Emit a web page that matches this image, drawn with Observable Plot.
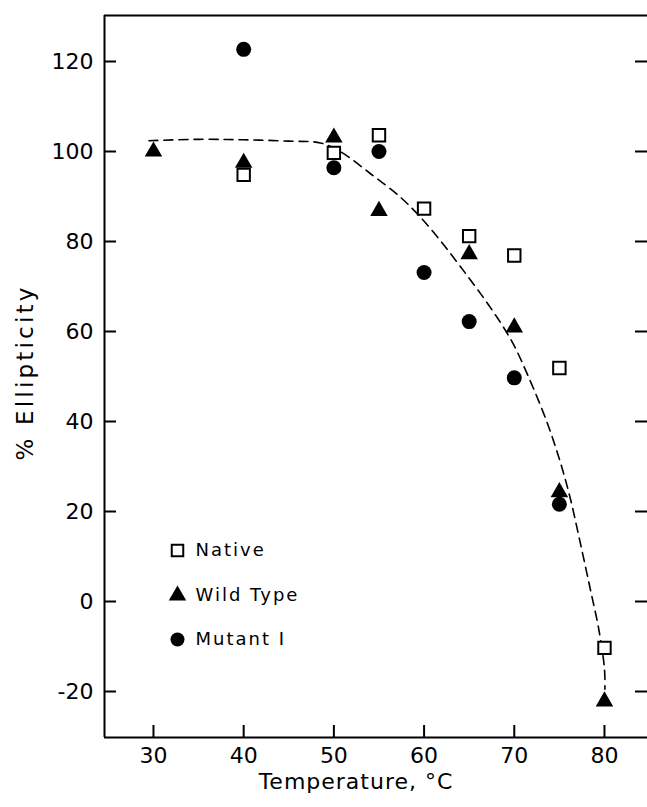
<!DOCTYPE html>
<html><head><meta charset="utf-8">
<script src="https://cdn.jsdelivr.net/npm/d3@7"></script>
<script src="https://cdn.jsdelivr.net/npm/@observablehq/plot@0.6"></script>
<style>body{margin:0;background:#fff}</style>
</head><body><div id="chart"></div>
<script>
const xTicks = [30, 40, 50, 60, 70, 80];
const yTicks = [-20, 0, 20, 40, 60, 80, 100, 120];
const nativeT = [40, 50, 55, 60, 65, 70, 75, 80];
const nativeV = [94.8, 99.7, 103.6, 87.3, 81.2, 76.9, 51.9, -10.3];
const wildT = [30, 40, 50, 55, 65, 70, 75, 80];
const wildV = [100, 97.5, 103.1, 86.8, 77.2, 60.9, 24.3, -22.2];
const mutantT = [40, 50, 55, 60, 65, 70, 75];
const mutantV = [122.7, 96.4, 100, 73.1, 62.2, 49.7, 21.6];
const fitT = [29.5, 35, 40, 45, 48.5, 50.7, 54.1, 57.4, 59.6, 61.8, 64, 66.3, 68.5, 70, 71.6, 73.6, 75.1, 76.2, 77.3, 78.4, 79.4, 80, 80.05];
const fitV = [102.4, 102.7, 102.6, 102.3, 101.9, 100, 95, 89.8, 85.4, 80.2, 74.5, 68.3, 61.9, 56.8, 49.8, 40, 31, 23, 13.2, 3, -6.5, -15, -19.5];
const legendLabels = ["Native", "Wild Type", "Mutant I"];
const seriesNames = ["Native", "Wild Type", "Mutant I"];

const W = 647, H = 807;
const mL = 104, mT = 15, mB = 70, mR = 0;
const plotW = W - mL - mR, plotH = H - mT - mB;
const xDomain = [24.57, 84.77];
const yDomain = [-30.22, 130.22];

const pts = (T, V, s) => T.map((t, i) => ({t, v: V[i], s}));
const native = pts(nativeT, nativeV, seriesNames[0]);
const wild = pts(wildT, wildV, seriesNames[1]);
const mutant = pts(mutantT, mutantV, seriesNames[2]);
const fit = fitT.map((t, i) => ({t, v: fitV[i]}));

const FONT = "DejaVu Sans";
const syms = ["square", "triangle", "circle"];
const legendDy = [-187, -142, -98];

const chart = Plot.plot({
  width: W, height: H,
  marginLeft: mL, marginTop: mT, marginBottom: mB, marginRight: mR,
  style: {fontFamily: FONT, background: "#fff", color: "#000"},
  x: {domain: xDomain},
  y: {domain: yDomain},
  marks: [
    Plot.ruleX([xDomain[0]], {stroke: "#000", strokeWidth: 2}),
    Plot.ruleY([yDomain[0], yDomain[1]], {stroke: "#000", strokeWidth: 2}),
    Plot.tickY(yTicks, {y: d => d, insetRight: plotW - 12, stroke: "#000", strokeWidth: 2}),
    Plot.tickY(yTicks, {y: d => d, insetLeft: plotW - 12, stroke: "#000", strokeWidth: 2}),
    Plot.tickX(xTicks, {x: d => d, insetTop: plotH - 12, stroke: "#000", strokeWidth: 2}),
    Plot.axisX({ticks: xTicks, tickSize: 0, tickPadding: 10, fontSize: 22, label: null, tickFormat: d => String(d)}),
    Plot.axisY({ticks: yTicks, tickSize: 0, tickPadding: 11, fontSize: 22, label: null, tickFormat: d => d < 0 ? "-" + Math.abs(d) : String(d)}),
    Plot.line(fit, {x: "t", y: "v", curve: "catmull-rom", stroke: "#000", strokeWidth: 1.6, strokeDasharray: "9,6"}),
    Plot.dot(mutant, {x: "t", y: "v", symbol: "circle", r: 7.5, fill: "#000", stroke: "none"}),
    Plot.dot(wild, {x: "t", y: "v", symbol: "triangle", r: 6.5, fill: "#000", stroke: "none"}),
    Plot.dot(native, {x: "t", y: "v", symbol: "square", r: 7, fill: "#fff", stroke: "#000", strokeWidth: 2}),
    ...legendLabels.map((lab, i) => Plot.dot([lab], {
      frameAnchor: "bottom-left", dx: 73, dy: legendDy[i], symbol: syms[i],
      r: i === 2 ? 7 : 6.5,
      fill: i === 0 ? "#fff" : "#000", stroke: i === 0 ? "#000" : "none", strokeWidth: 2
    })),
    ...legendLabels.map((lab, i) => Plot.text([lab], {
      text: d => d, frameAnchor: "bottom-left", dx: 91, dy: legendDy[i],
      textAnchor: "start", lineAnchor: "middle", fontSize: 18, fill: "#000", className: "spaced"
    })),
    Plot.text(["% Ellipticity"], {text: d => d, frameAnchor: "left", dx: -79, dy: -4, rotate: -90, textAnchor: "middle", lineAnchor: "middle", fontSize: 23, fill: "#000", className: "spaced-y"}),
    Plot.text(["Temperature, °C"], {text: d => d, frameAnchor: "bottom", dx: -20, dy: 44, textAnchor: "middle", lineAnchor: "middle", fontSize: 22, fill: "#000", className: "spaced-x"})
  ]
});
document.getElementById("chart").appendChild(chart);
d3.select(chart).selectAll(".spaced text").attr("letter-spacing", "2px");
d3.select(chart).selectAll(".spaced-y text").attr("letter-spacing", "3.2px");
d3.select(chart).selectAll(".spaced-x text").attr("letter-spacing", "1px");
</script>
</body></html>
